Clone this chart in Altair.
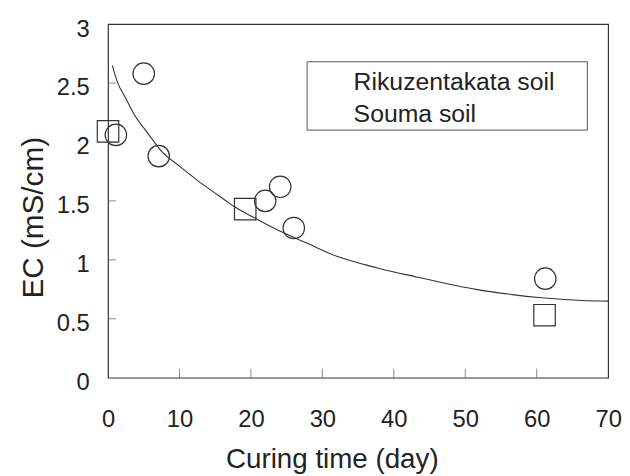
import altair as alt
import pandas as pd

# ---- data ----
series = ["Rikuzentakata soil", "Souma soil"]
rik_x = [1.1, 5.0, 7.1, 22.0, 24.1, 26.0, 61.2]
rik_y = [2.06, 2.58, 1.88, 1.50, 1.62, 1.27, 0.84]
sou_x = [0.0, 19.2, 61.1]
sou_y = [2.09, 1.43, 0.53]

curve_x = [0.6, 1.3, 2.5, 3.8, 5.5, 7.5, 9.9, 12.6, 14.9, 16.3, 17.7, 20.7,
           24.2, 27.9, 32.0, 36.2, 38.1, 43.2, 47.3, 50.1, 51.9, 56.6, 60.3,
           66.3, 70.0]
curve_y = [2.65, 2.51, 2.37, 2.22, 2.08, 1.92, 1.80, 1.67, 1.57, 1.51, 1.45,
           1.35, 1.24, 1.14, 1.03, 0.955, 0.925, 0.855, 0.80, 0.765, 0.745, 0.705,
           0.68, 0.655, 0.65]

x_labels = [0, 10, 20, 30, 40, 50, 60, 70]
y_labels = [0, 0.5, 1, 1.5, 2, 2.5, 3]
x_tick_values = [10, 20, 30, 40, 50, 60]
y_tick_values = [0.5, 1, 1.5, 2, 2.5]

# ---- tables ----
pts = pd.DataFrame({
    "x": rik_x + sou_x,
    "y": rik_y + sou_y,
    "series": [series[0]] * len(rik_x) + [series[1]] * len(sou_x),
})
curve = pd.DataFrame({"x": curve_x, "y": curve_y})
xt = pd.DataFrame({"x": x_tick_values})
yt = pd.DataFrame({"y": y_tick_values})

W, H = 505, 357
FONT = "Liberation Sans"
INK = "#333333"

xscale = alt.Scale(domain=[0, 70], nice=False, zero=False)
yscale = alt.Scale(domain=[0, 3], nice=False)

x_axis = alt.Axis(values=x_labels, format="d", labelPadding=30, labelFlush=False,
                  title="Curing time (day)", titleX=226, titleY=91, titleFontSize=28,
                  titleBaseline="alphabetic", titleAlign="center")
y_axis = alt.Axis(values=y_labels, format="~g", labelPadding=19, labelOffset=5,
                  labelFlush=False, title="EC (mS/cm)", titleX=-66, titleY=195,
                  titleFontSize=30, titleBaseline="alphabetic", titleAlign="center",
                  titleAngle=270)

X = lambda: alt.X("x:Q", scale=xscale, axis=x_axis)
Y = lambda: alt.Y("y:Q", scale=yscale, axis=y_axis)

line = alt.Chart(curve).mark_line(color=INK, strokeWidth=1.1, interpolate="monotone").encode(
    x=X(), y=Y()
)

points = alt.Chart(pts).mark_point(filled=False, size=470, stroke=INK, strokeWidth=1.2,
                                   opacity=1).encode(
    x=X(), y=Y(),
    shape=alt.Shape("series:N",
                    scale=alt.Scale(domain=series, range=["circle", "square"]),
                    legend=alt.Legend(title=None, orient="none", legendX=201, legendY=46,
                                      symbolOpacity=0, symbolStrokeWidth=0, symbolSize=100,
                                      labelOffset=22, labelFontSize=25, labelFont=FONT,
                                      labelColor="#222222", labelLimit=400, rowPadding=6,
                                      padding=0)),
)

xticks = alt.Chart(xt).mark_tick(orient="vertical", size=9, thickness=1, color="#555555").encode(
    x=X(), y=alt.value(H - 4.5)
)
yticks = alt.Chart(yt).mark_tick(orient="horizontal", size=8, thickness=1, color="#555555").encode(
    y=Y(), x=alt.value(4)
)

box = alt.Chart(pd.DataFrame({"a": [0]})).mark_rect(
    fill="transparent", stroke="#555555", strokeWidth=1
).encode(x=alt.value(201), x2=alt.value(484), y=alt.value(38), y2=alt.value(107))

chart = alt.layer(line, points, xticks, yticks, box).properties(
    width=W, height=H,
    autosize=alt.AutoSizeParams(type="none"),
    padding={"left": 101, "top": 14, "right": 14, "bottom": 100},
).configure_view(
    stroke=INK, strokeWidth=1.2
).configure_axis(
    domain=False, ticks=False, grid=False,
    labelFont=FONT, labelFontSize=24, labelColor="#222222",
    titleFont=FONT, titleColor="#222222", titleFontWeight="normal",
)

chart.save("out.html", embed_options={"renderer": "svg", "actions": False})
